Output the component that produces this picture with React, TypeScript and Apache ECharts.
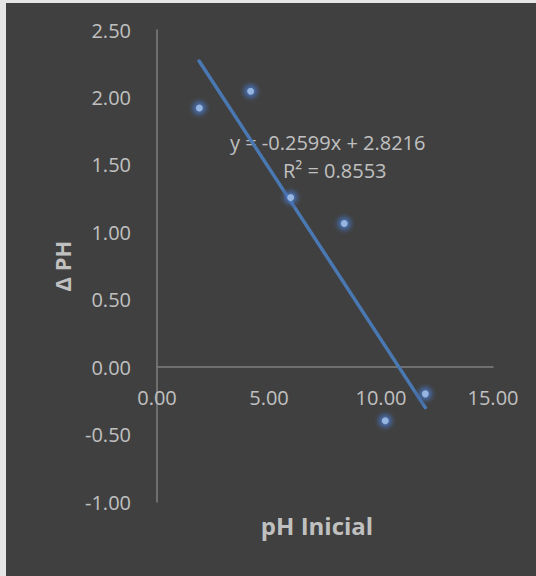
import React, { useEffect, useRef } from "react";
import * as echarts from "echarts";

const phInicial = [1.89, 4.18, 5.97, 8.36, 10.19, 11.98];
const deltaPH = [1.922, 2.046, 1.258, 1.065, -0.398, -0.198];
const trendX = [1.88, 11.98];
const trendY = [2.27, -0.3];
const equationText = "y = -0.2599x + 2.8216";
const r2Text = "R² = 0.8553";
const xAxisTitle = "pH Inicial";
const yAxisTitle = "Δ PH";

const FONT = "'Open Sans', sans-serif";
const TEXT = "#c0c0c0";

const Y_MIN = -1;
const Y_MAX = 2.5;
const GRID_H = 472;

export default function App() {
  const ref = useRef<HTMLDivElement>(null);
  useEffect(() => {
    if (!ref.current) return;
    const chart = echarts.init(ref.current, undefined, { renderer: "svg" });
    const points = phInicial.map((x, i) => [x, deltaPH[i]]);
    const zeroOffset = -(GRID_H * (0 - Y_MIN)) / (Y_MAX - Y_MIN);
    chart.setOption({
      animation: false,
      backgroundColor: "#404040",
      grid: { left: 151, top: 27, width: 336, height: GRID_H, containLabel: false, outerBoundsMode: "none" },
      xAxis: {
        type: "value",
        min: 0,
        max: 15,
        interval: 5,
        offset: zeroOffset,
        axisLine: { show: true, onZero: false, lineStyle: { color: "#7f7f7f", width: 1.5 } },
        axisTick: { show: false },
        splitLine: { show: false },
        axisLabel: {
          margin: 20,
          color: TEXT,
          fontFamily: FONT,
          fontSize: 20,
          formatter: (v: number) => v.toFixed(2),
        },
        name: xAxisTitle,
        nameLocation: "middle",
        nameGap: 146,
        nameTextStyle: {
          color: TEXT,
          fontFamily: FONT,
          fontSize: 24,
          fontWeight: "bold",
          padding: [0, 16, 0, 0],
        },
      },
      yAxis: {
        type: "value",
        min: Y_MIN,
        max: Y_MAX,
        interval: 0.5,
        axisLine: { show: true, onZero: false, lineStyle: { color: "#7f7f7f", width: 1.5 } },
        axisTick: { show: false },
        splitLine: { show: false },
        axisLabel: {
          margin: 26,
          color: TEXT,
          fontFamily: FONT,
          fontSize: 20,
          formatter: (v: number) => v.toFixed(2),
        },
        name: yAxisTitle,
        nameLocation: "middle",
        nameGap: 84,
        nameTextStyle: {
          color: TEXT,
          fontFamily: FONT,
          fontSize: 22,
          fontWeight: "bold",
        },
      },
      series: [
        {
          type: "line",
          data: trendX.map((x, i) => [x, trendY[i]]),
          showSymbol: false,
          symbol: "none",
          lineStyle: { color: "#4a78b3", width: 3.5, cap: "round" },
          z: 2,
        },
        {
          type: "scatter",
          data: points,
          symbol: "circle",
          symbolSize: 24,
          silent: true,
          itemStyle: {
            color: {
              type: "radial",
              x: 0.5,
              y: 0.5,
              r: 0.5,
              colorStops: [
                { offset: 0, color: "rgba(80,130,210,1)" },
                { offset: 0.4, color: "rgba(72,118,195,0.75)" },
                { offset: 0.75, color: "rgba(66,90,130,0.3)" },
                { offset: 1, color: "rgba(64,64,64,0)" },
              ],
            },
          },
          z: 3,
        },
        {
          type: "scatter",
          data: points,
          symbol: "circle",
          symbolSize: 7,
          itemStyle: { color: "#a9c7ef" },
          z: 4,
        },
      ],
      graphic: [
        {
          type: "text",
          left: 224,
          top: 129,
          style: {
            text: equationText,
            fill: TEXT,
            font: `20px ${FONT}`,
          },
        },
        {
          type: "text",
          left: 277,
          top: 157,
          style: {
            text: r2Text,
            fill: TEXT,
            font: `20px ${FONT}`,
          },
        },
      ],
    });
    return () => chart.dispose();
  }, []);
  return (
    <div style={{ position: "fixed", left: 0, top: 0, width: 536, height: 576, background: "#e6e6e6" }}>
      <div
        ref={ref}
        style={{ position: "absolute", left: 6, top: 3, width: 530, height: 573 }}
      />
    </div>
  );
}
